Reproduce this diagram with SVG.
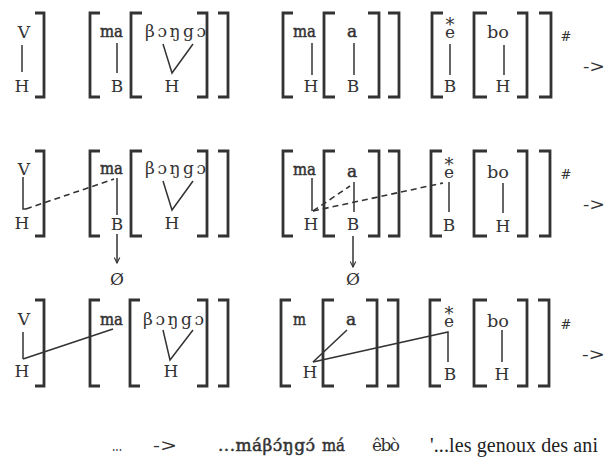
<svg xmlns="http://www.w3.org/2000/svg" width="607" height="461" viewBox="0 0 607 461">
<defs>
<style>
.t{font-family:"DejaVu Serif","Liberation Serif",serif;font-size:17px;fill:#333;text-anchor:middle}
.s{text-anchor:start}
.b{stroke:#333;stroke-width:0.5px}
.ast{font-size:18px}
.sm{font-size:13px}
.br{fill:none;stroke:#333;stroke-width:2.8;stroke-linecap:butt}
.ln{fill:none;stroke:#333;stroke-width:1.5}
.ds{fill:none;stroke:#333;stroke-width:1.6;stroke-dasharray:6 4}
.fr{font-family:"Liberation Serif",serif;font-size:20px;fill:#222}
</style>
<marker id="ah" viewBox="0 0 10 10" refX="9" refY="5" markerWidth="7" markerHeight="7" orient="auto" markerUnits="userSpaceOnUse">
<path d="M1,1 L9,5 L1,9" fill="none" stroke="#333" stroke-width="1.6"/>
</marker>
</defs>
<rect width="607" height="461" fill="#fff"/>

<!-- Row 1 -->
<g id="r1-vh"><text class="t" x="24" y="38">V</text><text class="t" x="22" y="92">H</text><path class="br" d="M35,13H44V97H35"/></g>
<g id="r1-ma"><path class="br" d="M100,13H90V97H100"/><text class="t s b" x="100" y="37" textLength="23" lengthAdjust="spacingAndGlyphs">ma</text><text class="t" x="117" y="92">B</text></g>
<g id="r1-bongo"><path class="br" d="M142,13H131V97H142"/><text class="t s" x="145" y="37" textLength="61" lengthAdjust="spacing">βɔŋgɔ</text><text class="t" x="172" y="92">H</text><path class="br" d="M197,13H207V97H197"/><path class="br" d="M218,13H228V97H218"/></g>
<g id="r1-ma2"><path class="br" d="M293,13H283V97H293"/><text class="t s b" x="293" y="37" textLength="23" lengthAdjust="spacingAndGlyphs">ma</text><text class="t" x="311" y="92">H</text></g>
<g id="r1-a"><path class="br" d="M335,13H324V97H335"/><text class="t b" x="352" y="37">a</text><text class="t" x="353" y="92">B</text><path class="br" d="M368,13H379V97H368"/><path class="br" d="M388,13H399V97H388"/></g>
<g id="r1-e"><path class="br" d="M443,13H432V97H443"/><text class="t" x="450" y="38"><tspan class="ast" x="450" dy="-7">*</tspan><tspan x="450" dy="7">e</tspan></text><text class="t" x="450" y="92">B</text></g>
<g id="r1-bo"><path class="br" d="M487,13H474V97H487"/><text class="t s" x="487" y="38" textLength="22" lengthAdjust="spacingAndGlyphs">bo</text><text class="t" x="503" y="92">H</text><path class="br" d="M517,13H527V97H517"/><path class="br" d="M539,13H551V97H539"/><text class="t sm" x="566" y="41">#</text></g>
<g id="r1-arrow"><text class="t s" x="583" y="72" textLength="22" lengthAdjust="spacingAndGlyphs">-&gt;</text></g>

<!-- Row 2 -->
<g id="r2-vh"><text class="t" x="24" y="175">V</text><text class="t" x="22" y="229">H</text><path class="br" d="M35,151H44V236H35"/></g>
<g id="r2-ma"><path class="br" d="M100,151H90V236H100"/><text class="t s b" x="100" y="174" textLength="23" lengthAdjust="spacingAndGlyphs">ma</text><text class="t" x="117" y="230">B</text><text class="t" x="117" y="285">Ø</text></g>
<g id="r2-bongo"><path class="br" d="M142,151H131V236H142"/><text class="t s" x="145" y="174" textLength="61" lengthAdjust="spacing">βɔŋgɔ</text><text class="t" x="172" y="229">H</text><path class="br" d="M197,151H207V236H197"/><path class="br" d="M218,151H228V236H218"/></g>
<g id="r2-ma2"><path class="br" d="M293,151H283V236H293"/><text class="t s b" x="293" y="175" textLength="23" lengthAdjust="spacingAndGlyphs">ma</text><text class="t" x="311" y="230">H</text></g>
<g id="r2-a"><path class="br" d="M335,151H324V236H335"/><text class="t b" x="352" y="177">a</text><text class="t" x="353" y="230">B</text><text class="t" x="353" y="285">Ø</text><path class="br" d="M368,151H379V236H368"/><path class="br" d="M388,151H399V236H388"/></g>
<g id="r2-e"><path class="br" d="M442,151H431V236H442"/><text class="t" x="449" y="178"><tspan class="ast" x="449" dy="-7">*</tspan><tspan x="449" dy="7">e</tspan></text><text class="t" x="449" y="231">B</text></g>
<g id="r2-bo"><path class="br" d="M487,151H474V236H487"/><text class="t s" x="487" y="178" textLength="22" lengthAdjust="spacingAndGlyphs">bo</text><text class="t" x="503" y="232">H</text><path class="br" d="M517,151H527V236H517"/><path class="br" d="M539,151H550V236H539"/><text class="t sm" x="566" y="179">#</text></g>
<g id="r2-arrow"><text class="t s" x="583" y="210" textLength="22" lengthAdjust="spacingAndGlyphs">-&gt;</text></g>

<!-- Row 3 -->
<g id="r3-vh"><text class="t" x="24" y="325">V</text><text class="t" x="22" y="377">H</text><path class="br" d="M35,300H44V386H35"/></g>
<g id="r3-ma"><path class="br" d="M100,300H90V386H100"/><text class="t s b" x="100" y="325" textLength="23" lengthAdjust="spacingAndGlyphs">ma</text></g>
<g id="r3-bongo"><path class="br" d="M140,300H130V386H140"/><text class="t s" x="143" y="325" textLength="61" lengthAdjust="spacing">βɔŋgɔ</text><text class="t" x="171" y="377">H</text><path class="br" d="M197,300H207V386H197"/><path class="br" d="M218,300H228V386H218"/></g>
<g id="r3-m"><path class="br" d="M291,300H281V386H291"/><text class="t s b" x="293" y="325" textLength="13" lengthAdjust="spacingAndGlyphs">m</text><text class="t" x="310" y="378">H</text></g>
<g id="r3-a"><path class="br" d="M334,300H323V386H334"/><text class="t b" x="351" y="325">a</text><path class="br" d="M366,300H377V386H366"/><path class="br" d="M387,300H398V386H387"/></g>
<g id="r3-e"><path class="br" d="M441,300H430V386H441"/><text class="t" x="449" y="327"><tspan class="ast" x="449" dy="-7">*</tspan><tspan x="449" dy="7">e</tspan></text><text class="t" x="450" y="380">B</text></g>
<g id="r3-bo"><path class="br" d="M487,300H474V386H487"/><text class="t s" x="487" y="327" textLength="22" lengthAdjust="spacingAndGlyphs">bo</text><text class="t" x="502" y="380">H</text><path class="br" d="M517,300H527V386H517"/><path class="br" d="M538,300H549V386H538"/><text class="t sm" x="566" y="329">#</text></g>
<g id="r3-arrow"><text class="t s" x="582" y="360" textLength="23" lengthAdjust="spacingAndGlyphs">-&gt;</text></g>

<!-- Bottom line -->
<g id="result">
<text class="t s" x="112" y="451" textLength="10" lengthAdjust="spacingAndGlyphs">...</text>
<text class="t s" x="153" y="451" textLength="24" lengthAdjust="spacingAndGlyphs">-&gt;</text>
<text class="t s b" x="218" y="451" textLength="97" lengthAdjust="spacing">...máβɔ́ŋgɔ́</text>
<text class="t s b" x="322" y="451" textLength="23" lengthAdjust="spacingAndGlyphs">má</text>
<text class="t s" x="372" y="451" textLength="28" lengthAdjust="spacing">êbò</text>
<text class="fr" x="430" y="452" textLength="168" lengthAdjust="spacing">'...les genoux des ani</text>
</g>

<g id="connectors">
<!-- row 1 -->
<path class="ln" d="M22,45V72"/>
<path class="ln" d="M117,43V73"/>
<path class="ln" d="M163,44L172,73L193,44"/>
<path class="ln" d="M312,43V75"/>
<path class="ln" d="M354,43V75"/>
<path class="ln" d="M450,44V75"/>
<path class="ln" d="M504,45V75"/>
<!-- row 2 -->
<path class="ln" d="M23,177V209H26"/>
<path class="ds" d="M26,209L114,179"/>
<path class="ln" d="M117,178V215"/>
<path class="ln" d="M117,234V263" marker-end="url(#ah)"/>
<path class="ln" d="M163,181L172,210L193,181"/>
<path class="ln" d="M312,178V211"/>
<path class="ds" d="M313,211L350,186"/>
<path class="ds" d="M313,211L443,183"/>
<path class="ln" d="M354,182V212"/>
<path class="ln" d="M353,236V267" marker-end="url(#ah)"/>
<path class="ln" d="M449,182V212"/>
<path class="ln" d="M503,183V213"/>
<!-- row 3 -->
<path class="ln" d="M23,332V359"/>
<path class="ln" d="M23,359L113,329"/>
<path class="ln" d="M163,330L170,360L193,330"/>
<path class="ln" d="M313,362L347,330"/>
<path class="ln" d="M313,362L448,332V362"/>
<path class="ln" d="M502,330V362"/>
</g>
</svg>
